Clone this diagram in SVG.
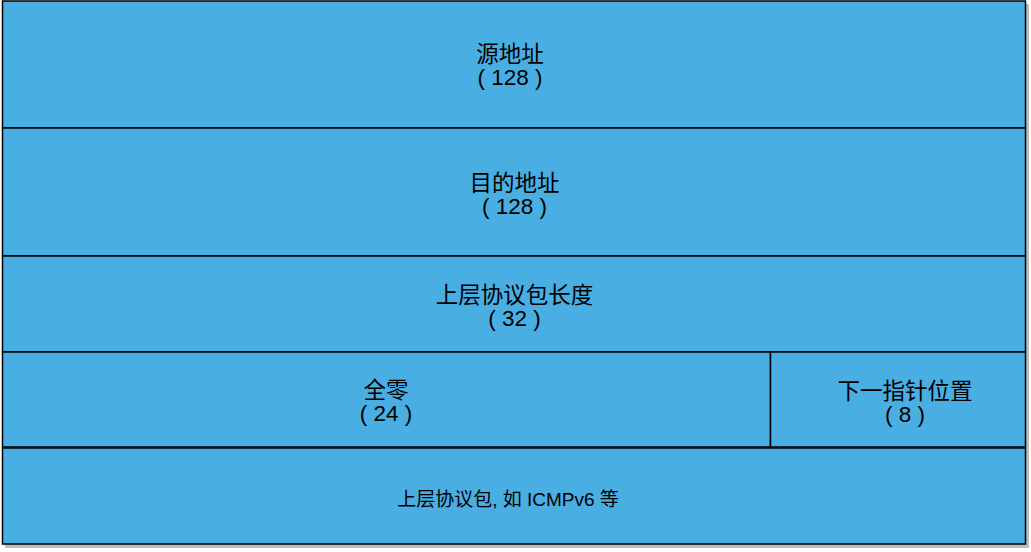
<svg xmlns="http://www.w3.org/2000/svg" width="1031" height="552" viewBox="0 0 1031 552">
<style>
.box{fill:#49AEE2;stroke:#000;stroke-width:1.5}
.sh{fill:#BDBDBD}
.t{font-family:"Liberation Sans","Noto Sans CJK SC",sans-serif;font-size:22.5px;fill:#000;text-anchor:middle}
.s{font-size:19px}
</style>
<rect width="1031" height="552" fill="#fff"/>
<rect class="sh" x="5" y="4" width="1024" height="544"/>
<g id="src"><rect class="box" x="2.5" y="1" width="1023" height="127"/>
<text class="t" x="510" y="61.5">源地址</text><text class="t" x="510" y="85">( 128 )</text></g>
<g id="dst"><rect class="box" x="2.5" y="128" width="1023" height="128"/>
<text class="t" x="514.5" y="190.5">目的地址</text><text class="t" x="514.5" y="214">( 128 )</text></g>
<g id="len"><rect class="box" x="2.5" y="256" width="1023" height="96"/>
<text class="t" x="514.5" y="302.5">上层协议包长度</text><text class="t" x="514.5" y="325.5">( 32 )</text></g>
<g id="zero"><rect class="box" x="2.5" y="352" width="768" height="95"/>
<text class="t" x="386" y="397.5">全零</text><text class="t" x="386" y="421">( 24 )</text></g>
<g id="next"><rect class="box" x="770.5" y="352" width="255" height="95"/>
<text class="t" x="905" y="398.5">下一指针位置</text><text class="t" x="905" y="421.5">( 8 )</text></g>
<g id="payload"><rect class="box" x="2.5" y="448" width="1023" height="96"/>
<text class="t s" x="508" y="506">上层协议包, 如 ICMPv6 等</text></g>
<g id="connectors"></g>
</svg>
